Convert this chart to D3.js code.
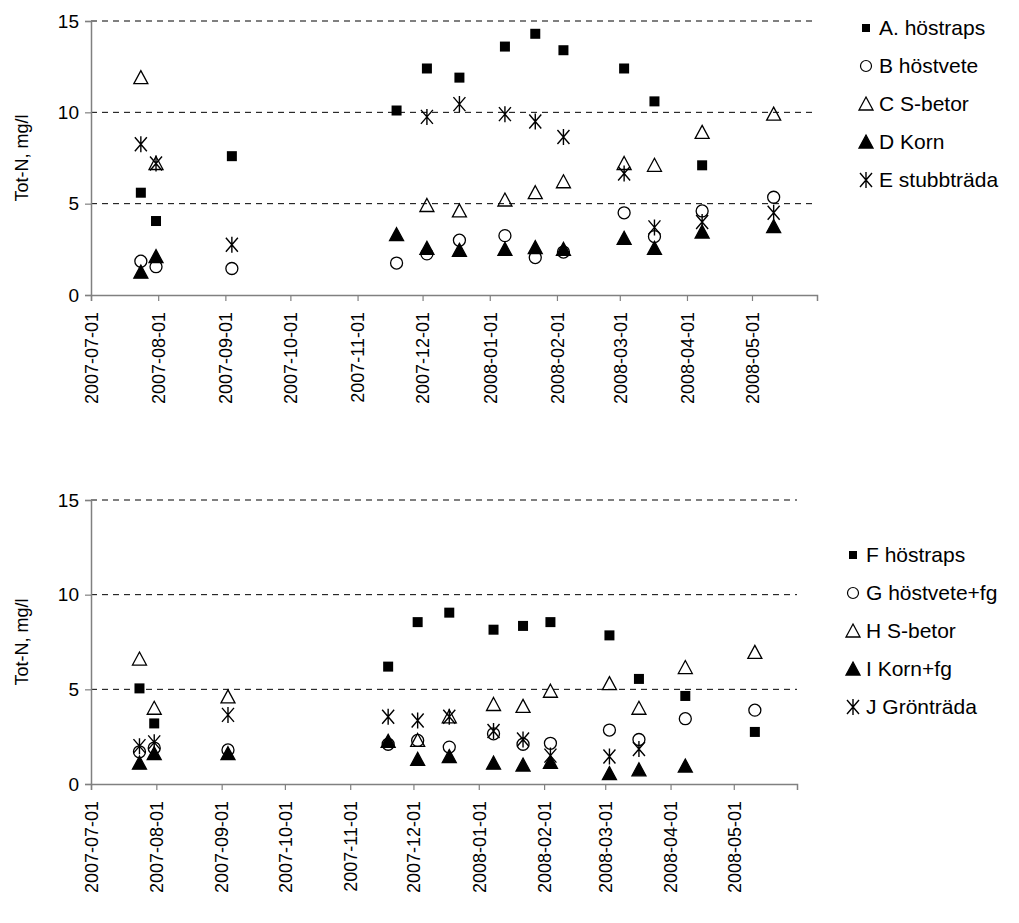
<!DOCTYPE html>
<html>
<head>
<meta charset="utf-8">
<script src="https://cdn.jsdelivr.net/npm/d3@7"></script>
<style>
  body { margin: 0; background: #fff; }
  text { font-family: "Liberation Sans", Arial, sans-serif; fill: #000; }
</style>
</head>
<body>
<div id="chart"></div>
<script>
// sampling dates (shared by both panels)
var dates = ["2007-07-24", "2007-07-31", "2007-09-04", "2007-11-19", "2007-12-03", "2007-12-18",
  "2008-01-08", "2008-01-22", "2008-02-04", "2008-03-03", "2008-03-17", "2008-04-08", "2008-05-11"];

var tickDates = ["2007-07-01", "2007-08-01", "2007-09-01", "2007-10-01", "2007-11-01", "2007-12-01",
  "2008-01-01", "2008-02-01", "2008-03-01", "2008-04-01", "2008-05-01"];
var yTicks = [0, 5, 10, 15];

// top panel series (null = no sample)
var aHostraps = [5.6, 4.05, 7.6, 10.1, 12.4, 11.9, 13.6, 14.3, 13.4, 12.4, 10.6, 7.1, null];
var bHostvete = [1.85, 1.55, 1.45, 1.75, 2.25, 3.0, 3.25, 2.05, 2.35, 4.5, 3.2, 4.6, 5.35];
var cSbetor = [11.9, 7.2, null, null, 4.9, 4.6, 5.2, 5.6, 6.2, 7.2, 7.1, 8.9, 9.9];
var dKorn = [1.25, 2.1, null, 3.3, 2.55, 2.45, 2.5, 2.6, 2.5, 3.1, 2.55, 3.45, 3.75];
var eStubbtrada = [8.25, 7.2, 2.75, null, 9.75, 10.45, 9.9, 9.5, 8.65, 6.65, 3.7, 4.0, 4.5];

// bottom panel series
var fHostraps = [5.05, 3.2, null, 6.2, 8.55, 9.05, 8.15, 8.35, 8.55, 7.85, 5.55, 4.65, 2.75];
var gHostveteFg = [1.7, 1.9, 1.8, 2.1, 2.3, 1.95, 2.65, 2.1, 2.15, 2.85, 2.35, 3.45, 3.9];
var hSbetor = [6.6, 4.0, 4.6, null, 2.3, 3.55, 4.2, 4.1, 4.9, 5.3, 4.0, 6.15, 6.95];
var iKornFg = [1.1, 1.6, 1.6, 2.25, 1.3, 1.45, 1.1, 1.0, 1.15, 0.55, 0.75, 0.95, null];
var jGrontrada = [2.0, 2.2, 3.65, 3.55, 3.35, 3.55, 2.8, 2.35, 1.5, 1.45, 1.85, null, null];

var topNames = ["A. höstraps", "B höstvete", "C S-betor", "D Korn", "E stubbträda"];
var bottomNames = ["F höstraps", "G höstvete+fg", "H S-betor", "I Korn+fg", "J Grönträda"];
var symbols = ["square", "circle", "triangle", "filledTriangle", "asterisk"];

var parse = d3.timeParse("%Y-%m-%d");

var svg = d3.select("#chart").append("svg")
  .attr("width", 1019)
  .attr("height", 923);

// draw one marker
function marker(g, type, x, y) {
  if (type == "square") {
    g.append("rect").attr("x", x - 5).attr("y", y - 5).attr("width", 10).attr("height", 10).attr("fill", "#000");
  } else if (type == "circle") {
    g.append("circle").attr("cx", x).attr("cy", y).attr("r", 6).attr("fill", "none").attr("stroke", "#000").attr("stroke-width", 1.3);
  } else if (type == "triangle" || type == "filledTriangle") {
    g.append("path").attr("d", `M${x},${y - 7}L${x + 7},${y + 6}L${x - 7},${y + 6}Z`)
      .attr("fill", type == "triangle" ? "none" : "#000").attr("stroke", "#000").attr("stroke-width", 1.3);
  } else {
    g.append("path").attr("d", `M${x - 6},${y - 7}L${x + 6},${y + 7}M${x + 6},${y - 7}L${x - 6},${y + 7}M${x},${y - 8}L${x},${y + 8}`)
      .attr("stroke", "#000").attr("stroke-width", 1.4).attr("fill", "none");
  }
}

function panel(cfg) {
  var x = d3.scaleTime()
    .domain([parse("2007-07-01"), parse("2008-05-31")])
    .range([91, cfg.right]);
  var y = d3.scaleLinear().domain([0, 15]).range([cfg.bottom, cfg.top]);

  var g = svg.append("g");

  // dashed gridlines
  g.selectAll(".grid").data(yTicks.filter(d => d > 0)).enter().append("line")
    .attr("x1", 91).attr("x2", cfg.right)
    .attr("y1", d => y(d)).attr("y2", d => y(d))
    .attr("stroke", "#000").attr("stroke-dasharray", "6,5").attr("stroke-width", 1);

  // axes
  var xAxis = d3.axisBottom(x).tickValues(tickDates.map(parse)).tickFormat(d3.timeFormat("%Y-%m-%d")).tickSize(6);
  var gx = g.append("g").attr("transform", `translate(0,${cfg.bottom})`).call(xAxis);
  gx.select(".domain").attr("stroke", "#808080").attr("stroke-width", 1.5);
  gx.selectAll(".tick line").attr("stroke", "#808080").attr("stroke-width", 1.2);
  gx.selectAll(".tick text")
    .attr("transform", "rotate(-90)")
    .attr("text-anchor", "end")
    .attr("x", -17).attr("y", 0).attr("dy", "0.35em")
    .style("font-size", "18px");

  var yAxis = d3.axisLeft(y).tickValues(yTicks).tickSize(6);
  var gy = g.append("g").attr("transform", "translate(91,0)").call(yAxis);
  gy.select(".domain").attr("stroke", "#808080").attr("stroke-width", 1.5);
  gy.selectAll(".tick line").attr("stroke", "#808080").attr("stroke-width", 1.2);
  gy.selectAll(".tick text").attr("x", -12).style("font-size", "19px");

  g.append("text")
    .attr("transform", `translate(22,${(cfg.top + cfg.bottom) / 2}) rotate(-90)`)
    .attr("text-anchor", "middle").attr("dy", "0.35em")
    .style("font-size", "18px")
    .text("Tot-N, mg/l");

  // points
  cfg.series.forEach(function(vals, i) {
    var mg = g.append("g");
    vals.forEach(function(v, j) {
      if (v == null) return;
      marker(mg, symbols[i], x(parse(dates[j])), y(v));
    });
  });

  // legend
  cfg.names.forEach(function(name, i) {
    var ly = cfg.legendY + i * 38;
    var lg = g.append("g");
    var t = symbols[i];
    if (t == "square") lg.append("rect").attr("x", cfg.legendX - 4).attr("y", ly - 4).attr("width", 8).attr("height", 8);
    else if (t == "circle") lg.append("circle").attr("cx", cfg.legendX).attr("cy", ly).attr("r", 5.5).attr("fill", "none").attr("stroke", "#000").attr("stroke-width", 1.2);
    else marker(lg, t, cfg.legendX, ly);
    lg.append("text").attr("x", cfg.legendX + 13).attr("y", ly).attr("dy", "0.35em")
      .style("font-size", "21px").text(name);
  });
}

panel({ top: 21, bottom: 295, right: 817, legendX: 866, legendY: 28,
  names: topNames, series: [aHostraps, bHostvete, cSbetor, dKorn, eStubbtrada] });
panel({ top: 500, bottom: 784, right: 797, legendX: 853, legendY: 555,
  names: bottomNames, series: [fHostraps, gHostveteFg, hSbetor, iKornFg, jGrontrada] });
</script>
</body>
</html>
